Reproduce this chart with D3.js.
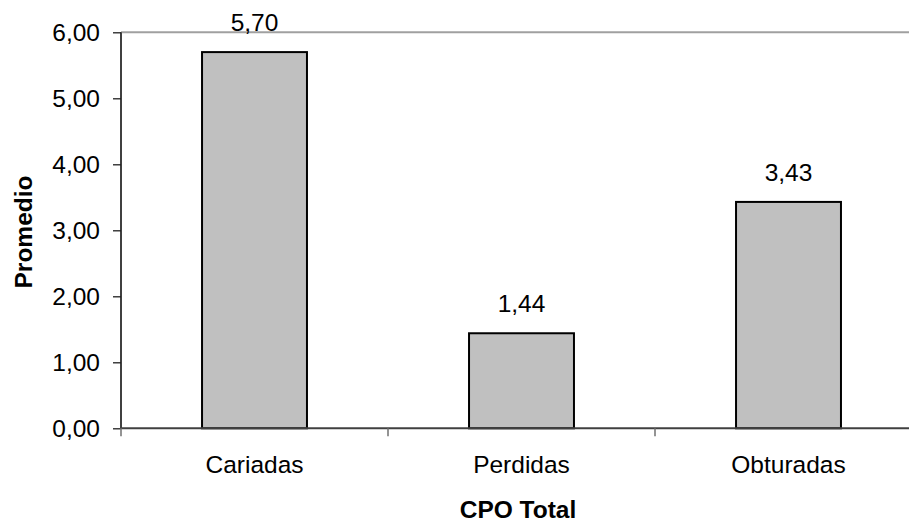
<!DOCTYPE html>
<html>
<head>
<meta charset="utf-8">
<script src="https://cdn.jsdelivr.net/npm/d3@7"></script>
<style>
  html, body { margin: 0; padding: 0; background: #fff; }
  svg { display: block; font-family: Arial, "Liberation Sans", sans-serif; }
</style>
</head>
<body>
<svg id="chart" width="909" height="522"></svg>
<script>
// CPO components: average per person
const categories = ["Cariadas", "Perdidas", "Obturadas"];
const values = [5.70, 1.44, 3.43];
const yTicks = [0, 1, 2, 3, 4, 5, 6];
const xTitle = "CPO Total";
const yTitle = "Promedio";

const fmt = v => v.toFixed(2).replace(".", ",");

const svg = d3.select("#chart");
const plot = { left: 121, right: 922, top: 32.3, bottom: 428.3 };

const x = d3.scaleBand()
  .domain(categories)
  .range([plot.left, plot.right])
  .padding(0);

const y = d3.scaleLinear()
  .domain([0, 6])
  .range([plot.bottom, plot.top]);

const barW = x.bandwidth() * 0.393;
const fontSize = 24.5;

// plot-area top border
svg.append("line")
  .attr("x1", plot.left).attr("x2", plot.right)
  .attr("y1", plot.top).attr("y2", plot.top)
  .attr("stroke", "#a0a0a0").attr("stroke-width", 2);

// bars
svg.append("g").selectAll("rect")
  .data(categories.map((c, i) => ({ c, v: values[i] })))
  .join("rect")
  .attr("x", d => x(d.c) + x.bandwidth() / 2 - barW / 2)
  .attr("y", d => y(d.v))
  .attr("width", barW)
  .attr("height", d => y(0) - y(d.v))
  .attr("fill", "#c0c0c0")
  .attr("stroke", "#000")
  .attr("stroke-width", 2);

// value labels
svg.append("g").selectAll("text")
  .data(categories.map((c, i) => ({ c, v: values[i] })))
  .join("text")
  .attr("x", d => x(d.c) + x.bandwidth() / 2)
  .attr("y", d => y(d.v) - 21)
  .attr("text-anchor", "middle")
  .attr("font-size", fontSize)
  .attr("fill", "#000")
  .text(d => fmt(d.v));

// y axis
const yAxis = svg.append("g")
  .attr("transform", `translate(${plot.left},0)`)
  .call(d3.axisLeft(y).tickValues(yTicks).tickFormat(fmt).tickSize(8).tickPadding(13));
yAxis.select(".domain").attr("stroke", "#404040").attr("stroke-width", 2)
  .attr("d", `M0,${plot.top}V${plot.bottom}`);
yAxis.selectAll(".tick line").attr("stroke", "#202020").attr("stroke-width", 1.3);
yAxis.selectAll(".tick text").attr("font-size", fontSize).attr("fill", "#000")
  .attr("font-family", "Arial, 'Liberation Sans', sans-serif").attr("dy", "0.35em");

// x axis
const xAxis = svg.append("g")
  .attr("transform", `translate(0,${plot.bottom})`);
xAxis.append("line")
  .attr("x1", plot.left).attr("x2", plot.right)
  .attr("y1", 0).attr("y2", 0)
  .attr("stroke", "#404040").attr("stroke-width", 2);
// category boundary ticks
xAxis.selectAll("line.tk")
  .data(categories.map(c => x(c)).concat([plot.right]))
  .join("line")
  .attr("class", "tk")
  .attr("x1", d => d).attr("x2", d => d)
  .attr("y1", 0).attr("y2", 8)
  .attr("stroke", "#707070").attr("stroke-width", 1.5);
xAxis.selectAll("text")
  .data(categories)
  .join("text")
  .attr("x", d => x(d) + x.bandwidth() / 2)
  .attr("y", 45)
  .attr("text-anchor", "middle")
  .attr("font-size", fontSize)
  .attr("fill", "#000")
  .text(d => d);

// axis titles
svg.append("text")
  .attr("x", 518)
  .attr("y", 518)
  .attr("text-anchor", "middle")
  .attr("font-size", fontSize)
  .attr("font-weight", "bold")
  .text(xTitle);

svg.append("text")
  .attr("transform", "translate(32,232) rotate(-90)")
  .attr("text-anchor", "middle")
  .attr("font-size", fontSize)
  .attr("font-weight", "bold")
  .text(yTitle);
</script>
</body>
</html>
